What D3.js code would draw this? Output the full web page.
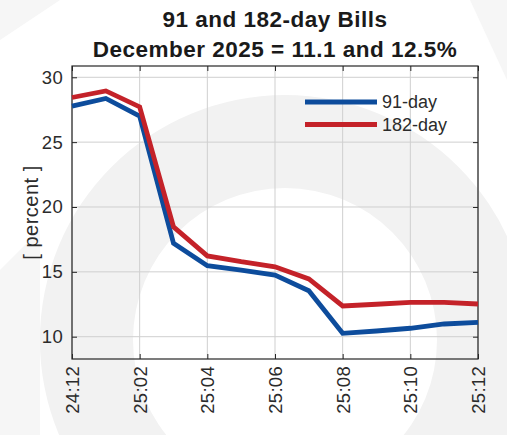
<!DOCTYPE html>
<html>
<head>
<meta charset="utf-8">
<script src="https://cdn.jsdelivr.net/npm/d3@7"></script>
<style>
  body { margin: 0; background: #fff; }
  svg { display: block; font-family: "Liberation Sans", Arial, sans-serif; }
  .tick text { fill: #2b2b2b; }
</style>
</head>
<body>
<svg id="chart" width="507" height="435"></svg>
<script>
// months shown on the x axis (yy:mm), one per data point
var months = ['24:12','25:01','25:02','25:03','25:04','25:05','25:06','25:07','25:08','25:09','25:10','25:11','25:12'];
var bill91 = [27.77, 28.37, 27.0, 17.2, 15.47, 15.14, 14.75, 13.54, 10.26, 10.44, 10.65, 10.98, 11.1];
var bill182 = [28.44, 28.95, 27.72, 18.47, 16.23, 15.78, 15.39, 14.45, 12.37, 12.5, 12.65, 12.65, 12.52];
var yTicks = [10, 15, 20, 25, 30];
var seriesNames = ['91-day', '182-day'];

var margin = {top: 66, right: 29, bottom: 76, left: 72},
    W = 507, H = 435,
    width = W - margin.left - margin.right,
    height = H - margin.top - margin.bottom;

var svg = d3.select('#chart');

// faint watermark in the background
var bg = svg.append('g').attr('fill', '#f2f2f2');
bg.append('path')
    .attr('transform', 'translate(285,340)')
    .attr('d', d3.arc().innerRadius(152).outerRadius(245).startAngle(-Math.PI).endAngle(Math.PI)());
bg.append('path').attr('d', 'M0,40 L60,0 L0,0 Z').attr('fill', '#f6f6f6');
bg.append('path').attr('d', 'M0,270 L40,230 L40,435 L0,435 Z').attr('fill', '#f6f6f6');
bg.append('path').attr('d', 'M470,0 L507,0 L507,80 Z').attr('fill', '#f6f6f6');

var x = d3.scaleLinear().domain([0, months.length - 1]).range([0, width]);
var y = d3.scaleLinear().domain([8.28, 30.87]).range([height, 0]);
var xTicks = d3.range(0, months.length, 2);

var g = svg.append('g').attr('transform', 'translate(' + margin.left + ',' + margin.top + ')');

// grid
g.append('g').selectAll('line.vg').data(xTicks).enter().append('line')
    .attr('x1', d => x(d)).attr('x2', d => x(d))
    .attr('y1', 0).attr('y2', height)
    .attr('stroke', '#cfcfcf').attr('stroke-width', 1);
g.append('g').selectAll('line.hg').data(yTicks).enter().append('line')
    .attr('x1', 0).attr('x2', width)
    .attr('y1', d => y(d)).attr('y2', d => y(d))
    .attr('stroke', '#cfcfcf').attr('stroke-width', 1);

// axes (ticks point inward like matlab)
var tl = 5;
var ax = g.append('g').attr('class', 'axis axis--y')
    .call(d3.axisLeft(y).tickValues(yTicks).tickSize(-tl).tickPadding(9));
ax.selectAll('text').attr('font-size', 18.5).attr('letter-spacing', 0.3);
g.append('g').attr('transform', 'translate(' + width + ',0)')
    .call(d3.axisRight(y).tickValues(yTicks).tickSize(-tl).tickFormat(''));

var axb = g.append('g').attr('class', 'axis axis--x')
    .attr('transform', 'translate(0,' + height + ')')
    .call(d3.axisBottom(x).tickValues(xTicks).tickSize(-tl).tickFormat(i => months[i]));
axb.selectAll('text')
    .attr('font-size', 18.5)
    .attr('letter-spacing', 0.3)
    .attr('transform', 'rotate(-90)')
    .attr('text-anchor', 'end')
    .attr('x', -7).attr('y', 0).attr('dy', '0.35em');
g.append('g')
    .call(d3.axisTop(x).tickValues(xTicks).tickSize(-tl).tickFormat(''));

g.selectAll('.domain').remove();
g.selectAll('.tick line').attr('stroke', '#262626');
g.append('rect').attr('width', width).attr('height', height)
    .attr('fill', 'none').attr('stroke', '#262626').attr('stroke-width', 1.2);

// lines
var colors = ['#0d4c9c', '#c42229'];
var line = d3.line().x((d, i) => x(i)).y(d => y(d));
[bill91, bill182].forEach((s, k) => {
    g.append('path').datum(s)
        .attr('d', line)
        .attr('fill', 'none')
        .attr('stroke', colors[k])
        .attr('stroke-width', 4.8)
        .attr('stroke-linejoin', 'miter');
});

// legend
seriesNames.forEach((name, k) => {
    var ly = 102 + k * 22.5;
    svg.append('line')
        .attr('x1', 305).attr('x2', 377).attr('y1', ly).attr('y2', ly)
        .attr('stroke', colors[k]).attr('stroke-width', 4.8);
    svg.append('text').attr('x', 382).attr('y', ly).attr('dy', '0.35em')
        .attr('font-size', 18).attr('fill', '#2b2b2b').text(name);
});

// y label
svg.append('text')
    .attr('transform', 'translate(38,212.5) rotate(-90)')
    .attr('text-anchor', 'middle').attr('font-size', 20).attr('letter-spacing', 0.5)
    .attr('fill', '#2b2b2b')
    .text('[ percent ]');

// title
var cx = margin.left + width / 2;
svg.append('text').attr('x', cx).attr('y', 26.5).attr('text-anchor', 'middle')
    .attr('font-size', 22.5).attr('font-weight', 'bold').attr('letter-spacing', 0.5)
    .attr('fill', '#1a1a1a')
    .text('91 and 182-day Bills');
svg.append('text').attr('x', cx).attr('y', 57).attr('text-anchor', 'middle')
    .attr('font-size', 22.5).attr('font-weight', 'bold').attr('letter-spacing', 0.5)
    .attr('fill', '#1a1a1a')
    .text('December 2025 = 11.1 and 12.5%');
</script>
</body>
</html>
